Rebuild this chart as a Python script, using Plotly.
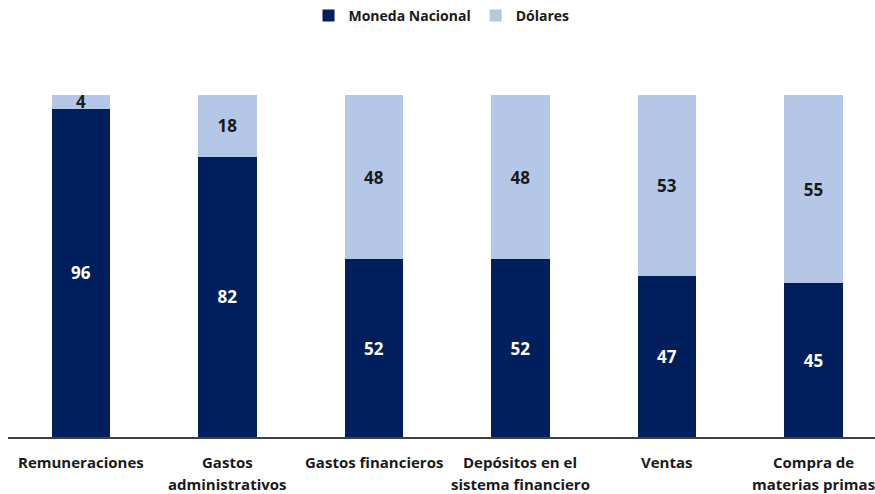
import plotly.graph_objects as go

categories = ["Remuneraciones", "Gastos<br>administrativos", "Gastos financieros",
              "Depósitos en el<br>sistema financiero", "Ventas", "Compra de<br>materias primas"]
moneda_nacional = [96, 82, 52, 52, 47, 45]
dolares = [4, 18, 48, 48, 53, 55]

DARK = "#001F5C"
LIGHT = "#B4C7E7"
TXT = "#1A1A1A"
FONT = "Open Sans"

fig = go.Figure()
fig.add_trace(go.Bar(
    x=categories, y=moneda_nacional, name="Moneda Nacional",
    marker=dict(color=DARK, line=dict(width=0)),
    text=[str(v) for v in moneda_nacional], textposition="inside", textangle=0,
    insidetextanchor="middle", constraintext="none", cliponaxis=False,
    textfont=dict(family=FONT, size=17, color="white", weight="bold"),
))
fig.add_trace(go.Bar(
    x=categories, y=dolares, name="Dólares",
    marker=dict(color=LIGHT, line=dict(width=0)),
    text=[str(v) for v in dolares], textposition="inside", textangle=0,
    insidetextanchor="middle", constraintext="none", cliponaxis=False,
    textfont=dict(family=FONT, size=17, color=TXT, weight="bold"),
))

# category labels, drawn line by line for wider line spacing
for cat in categories:
    lines = cat.split("<br>")
    for i, ln in enumerate(lines):
        fig.add_annotation(
            x=cat, y=0, xref="x", yref="y", text=ln, showarrow=False,
            xanchor="center", yanchor="middle", yshift=-25 - 22 * i,
            font=dict(family=FONT, size=15, color=TXT, weight="bold"),
        )

fig.update_layout(
    barmode="stack",
    bargap=0.6,
    width=875, height=494,
    margin=dict(l=8, r=0, t=95, b=57),
    paper_bgcolor="white", plot_bgcolor="white",
    showlegend=True,
    legend=dict(orientation="h", x=0.5, xanchor="center", y=1.0, yref="container",
                yanchor="top", font=dict(family=FONT, size=14, color=TXT, weight="bold"),
                traceorder="normal", itemwidth=30, tracegroupgap=0),
    font=dict(family=FONT, color=TXT),
)
fig.update_xaxes(
    range=[-0.498, 5.42], showgrid=False, showline=True, linecolor="#404040", linewidth=2,
    ticks="", showticklabels=False,
)
fig.update_yaxes(range=[0, 100], visible=False, showgrid=False)

fig.write_html("out.html", config={"displayModeBar": False},
               post_script="document.body.style.margin='0';document.body.style.overflow='hidden';")
